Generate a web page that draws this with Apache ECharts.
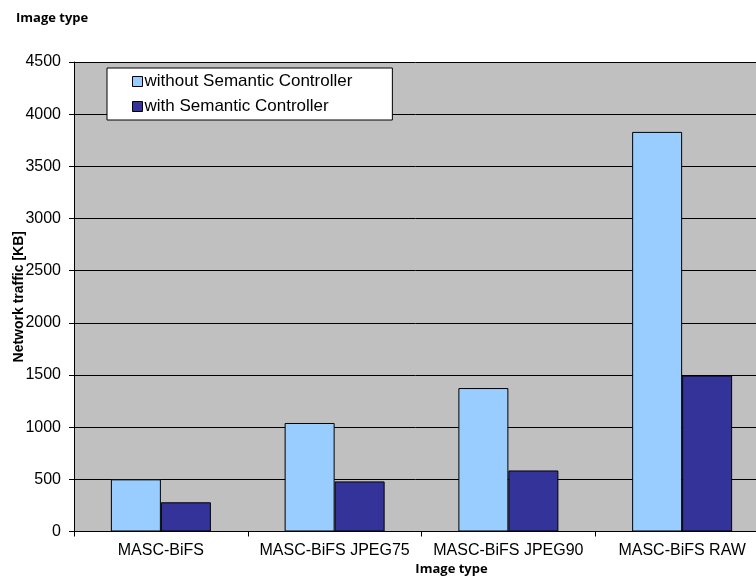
<!DOCTYPE html>
<html>
<head>
<meta charset="utf-8">
<script src="https://cdn.jsdelivr.net/npm/echarts@6/dist/echarts.min.js"></script>
<style>
html,body{margin:0;padding:0;background:#fff;}
#chart{width:756px;height:577px;}
</style>
</head>
<body>
<div id="chart"></div>
<script>
var categories = ['MASC-BiFS', 'MASC-BiFS JPEG75', 'MASC-BiFS JPEG90', 'MASC-BiFS RAW'];
var withoutController = [500, 1040, 1375, 3830];
var withController = [280, 480, 585, 1495];
var seriesNames = ['without Semantic Controller', 'with Semantic Controller'];
var yTicks = {min: 0, max: 4500, interval: 500};

var chart = echarts.init(document.getElementById('chart'));
var titleFont = '"Open Sans", Lato, sans-serif';
var armFont = '"Liberation Sans", Arial, sans-serif';
chart.setOption({
  animation: false,
  backgroundColor: '#ffffff',
  title: {
    text: 'Image type',
    left: 11, top: 7,
    textStyle: {fontFamily: titleFont, fontWeight: 'bold', fontSize: 13, color: '#000'}
  },
  legend: {
    orient: 'vertical',
    left: 107, top: 68,
    padding: [5, 40, 5, 25],
    itemGap: 8,
    itemWidth: 10, itemHeight: 10,
    backgroundColor: '#ffffff',
    borderColor: '#000', borderWidth: 1,
    icon: 'rect',
    textStyle: {fontFamily: armFont, fontSize: 17, color: '#000', padding: [0, 0, 0, -3]},
    itemStyle: {borderColor: '#000', borderWidth: 1},
    data: seriesNames
  },
  grid: {
    left: 74, top: 62, right: -13, bottom: 45.5,
    outerBoundsMode: 'none',
    containLabel: false,
    show: true, backgroundColor: '#C0C0C0', borderWidth: 0
  },
  xAxis: {
    type: 'category',
    data: categories,
    name: 'Image type',
    nameLocation: 'middle',
    nameGap: 31,
    nameMoveOverlap: false,
    nameTextStyle: {fontFamily: titleFont, fontWeight: 'bold', fontSize: 13, color: '#000', padding: [0, 0, 0, 60]},
    axisLine: {lineStyle: {color: '#000', width: 1}},
    axisTick: {show: true, length: 5, lineStyle: {color: '#000'}},
    axisLabel: {fontFamily: armFont, fontSize: 16, color: '#000', margin: 11, interval: 0},
    splitLine: {show: false}
  },
  yAxis: {
    type: 'value',
    min: yTicks.min, max: yTicks.max, interval: yTicks.interval,
    name: 'Network traffic [KB]',
    nameLocation: 'middle',
    nameGap: 48,
    nameMoveOverlap: false,
    nameTextStyle: {fontFamily: armFont, fontWeight: 'bold', fontSize: 14, color: '#000'},
    axisLine: {show: true, lineStyle: {color: '#000', width: 1}},
    axisTick: {show: true, length: 5, lineStyle: {color: '#000'}},
    axisLabel: {fontFamily: armFont, fontSize: 16, color: '#000', margin: 13,
      formatter: function (v) { return String(v); }},
    splitLine: {show: true, lineStyle: {color: '#000', width: 1}}
  },
  series: [
    {
      name: seriesNames[0], type: 'bar', data: withoutController,
      barWidth: 50, barGap: '0%',
      itemStyle: {color: '#99CCFF', borderColor: '#000', borderWidth: 1}
    },
    {
      name: seriesNames[1], type: 'bar', data: withController,
      barWidth: 50, barGap: '0%',
      itemStyle: {color: '#333399', borderColor: '#000', borderWidth: 1}
    }
  ]
});
</script>
</body>
</html>
